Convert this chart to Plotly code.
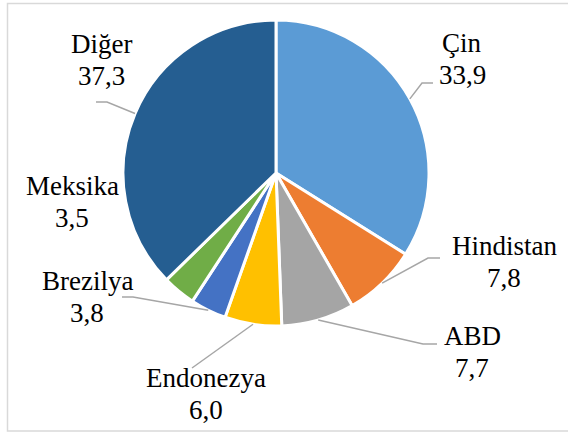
import math
import plotly.graph_objects as go

# ---- data ----
categories = ["Çin", "Hindistan", "ABD", "Endonezya", "Brezilya", "Meksika", "Diğer"]
values = [33.9, 7.8, 7.7, 6.0, 3.8, 3.5, 37.3]
value_labels = ["33,9", "7,8", "7,7", "6,0", "3,8", "3,5", "37,3"]
colors = ["#5B9BD5", "#ED7D31", "#A5A5A5", "#FFC000", "#4472C4", "#70AD47", "#255E91"]

# ---- layout constants (pixels) ----
W, H = 568, 432
CX, CY, R = 276, 173, 153
FONT = "Liberation Serif, Tinos, Times New Roman, serif"
FS = 27
LINE_GAP = 32

# label placement: (center x, baseline of name line)
label_pos = {
    "Çin": (462, 52),
    "Hindistan": (504, 255),
    "ABD": (472, 345),
    "Endonezya": (206, 387),
    "Brezilya": (87, 290),
    "Meksika": (72, 195),
    "Diğer": (101, 53),
}
# leader line outer points (elbow, end) in pixels; None = no leader line
leader_outer = {
    "Çin": [(422, 83), (433, 83)],
    "Hindistan": [(428, 258), (440, 258)],
    "ABD": [(423, 344), (437, 344)],
    "Endonezya": [(192, 368)],
    "Brezilya": [(133, 297), (122, 297)],
    "Meksika": None,
    "Diğer": [(107, 102), (96, 102)],
}

def px(x):
    return x / W

def py(y):
    return 1 - y / H

fig = go.Figure(go.Pie(
    labels=categories,
    values=values,
    sort=False,
    direction="clockwise",
    rotation=0,
    marker=dict(colors=colors, line=dict(color="white", width=3)),
    textinfo="none",
    hoverinfo="label+value",
    showlegend=False,
    domain=dict(x=[px(CX - R), px(CX + R)], y=[py(CY + R), py(CY - R)]),
))

annotations = []
shapes = []
total = sum(values)
cum = 0.0
for cat, v, vl in zip(categories, values, value_labels):
    mid = (cum + v / 2) / total * 2 * math.pi
    cum += v
    cx, base = label_pos[cat]
    for i, t in enumerate([cat, vl]):
        b = base + i * LINE_GAP
        annotations.append(dict(
            x=px(cx), y=py(b - 0.3375 * FS), xref="paper", yref="paper",
            xanchor="center", yanchor="middle",
            text=t, showarrow=False,
            font=dict(family=FONT, size=FS),
        ))
    outer = leader_outer[cat]
    if outer:
        ix = CX + R * math.sin(mid)
        iy = CY - R * math.cos(mid)
        pts = [(ix, iy)] + outer
        path = "M " + " L ".join(f"{px(x):.5f},{py(y):.5f}" for x, y in pts)
        shapes.append(dict(type="path", xref="paper", yref="paper", path=path,
                           line=dict(color="#A6A6A6", width=1.5)))

# chart-area border
shapes.append(dict(type="rect", xref="paper", yref="paper",
                   x0=px(7.5), x1=1.02, y0=py(431), y1=py(3.5),
                   line=dict(color="#D9D9D9", width=1.5)))

fig.update_layout(
    width=W, height=H,
    margin=dict(l=0, r=0, t=0, b=0),
    paper_bgcolor="white",
    plot_bgcolor="white",
    font=dict(family=FONT, color="black"),
    annotations=annotations,
    shapes=shapes,
)

css = ("var s=document.createElement('style');"
       "s.textContent='.annotation-text{font-family:\"Liberation Serif\",serif !important;}';"
       "document.head.appendChild(s);"
       "document.body.style.margin='0';document.body.style.overflow='hidden';")
fig.write_html("out.html", config={"displayModeBar": False}, post_script=css)
